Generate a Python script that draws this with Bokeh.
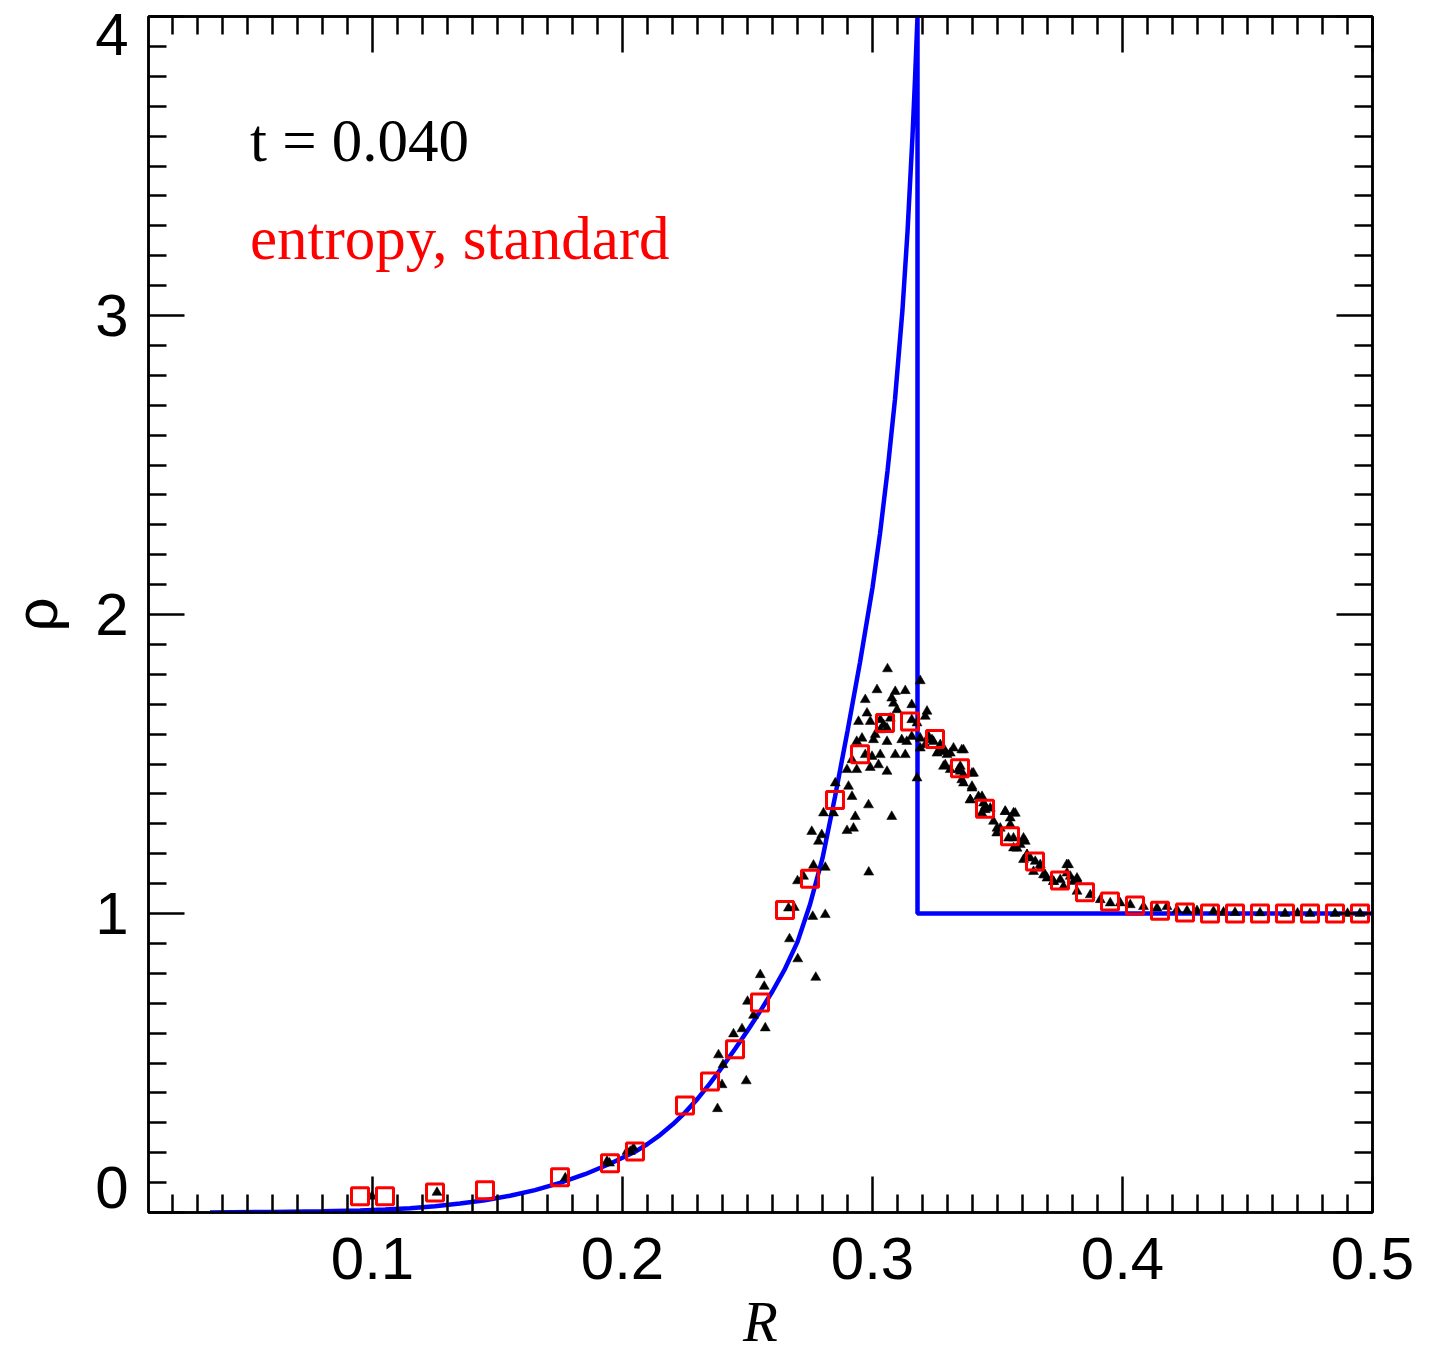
from bokeh.plotting import figure
from bokeh.models import Range1d, LinearAxis, FixedTicker, Label, CustomLabelingPolicy
from bokeh.embed import file_html
from bokeh.resources import INLINE

# ---------------- data ----------------
# analytic (Sedov) density profile, blue line
sol_r = [0.035, 0.060, 0.080, 0.095, 0.105, 0.115, 0.125, 0.135, 0.145, 0.155,
         0.165, 0.175, 0.185, 0.195, 0.205, 0.210, 0.215, 0.220, 0.225, 0.230,
         0.235, 0.240, 0.245, 0.250, 0.255, 0.260, 0.265, 0.270, 0.275, 0.280,
         0.285, 0.290, 0.295, 0.300, 0.303, 0.306, 0.309, 0.312, 0.314, 0.316,
         0.317, 0.318, 0.318, 0.500]
sol_rho = [0.000, 0.002, 0.004, 0.007, 0.010, 0.014, 0.021, 0.030, 0.041, 0.056,
           0.075, 0.099, 0.128, 0.163, 0.203, 0.229, 0.259, 0.294, 0.334, 0.380,
           0.432, 0.488, 0.547, 0.608, 0.672, 0.740, 0.815, 0.905, 1.030, 1.185,
           1.390, 1.610, 1.840, 2.090, 2.270, 2.480, 2.720, 3.020, 3.280, 3.600,
           3.790, 4.000, 1.000, 1.000]

# binned SPH density, red squares
bin_r = [0.095, 0.105, 0.125, 0.145, 0.175, 0.195, 0.205, 0.225, 0.235, 0.245,
         0.255, 0.265, 0.275, 0.285, 0.295, 0.305, 0.315, 0.325, 0.335, 0.345,
         0.355, 0.365, 0.375, 0.385, 0.395, 0.405, 0.415, 0.425, 0.435, 0.445,
         0.455, 0.465, 0.475, 0.485, 0.495]
bin_rho = [0.054, 0.054, 0.067, 0.074, 0.118, 0.165, 0.204, 0.358, 0.438, 0.546,
           0.702, 1.012, 1.116, 1.380, 1.533, 1.637, 1.642, 1.584, 1.486, 1.350,
           1.258, 1.174, 1.110, 1.071, 1.040, 1.027, 1.009, 1.003, 1.000, 1.000,
           1.000, 1.000, 1.000, 1.000, 1.000]

# individual particles, black triangles
part_r = [0.0998, 0.1258, 0.1771, 0.1938, 0.1948, 0.2018, 0.2031, 0.2044,
          0.2380, 0.2398, 0.2495, 0.2402, 0.2384, 0.2444, 0.2478, 0.2571, 0.2524, 0.2500,
          0.2567, 0.2551, 0.2773, 0.2701, 0.2668, 0.2664, 0.2687, 0.2761, 0.2811, 0.2700,
          0.2724, 0.2764, 0.2811, 0.2985,
          0.3060, 0.3018, 0.3091, 0.3131, 0.3191, 0.2971, 0.3077, 0.3084, 0.3157, 0.3098,
          0.2978, 0.3218, 0.3211, 0.2944, 0.2991, 0.3031, 0.3071, 0.3157, 0.3178, 0.3058,
          0.3011, 0.3031, 0.2958, 0.2937, 0.3004, 0.3117, 0.3137, 0.3058, 0.3157, 0.3191,
          0.3224, 0.3191, 0.3211, 0.3244, 0.3271, 0.3264, 0.3284, 0.3298, 0.3324, 0.3364,
          0.2971, 0.2998, 0.3031, 0.3091, 0.3131, 0.2918, 0.2898, 0.2937, 0.2991, 0.3024,
          0.3058, 0.3284, 0.3311, 0.3351, 0.3364, 0.3398, 0.3357, 0.3364, 0.2851, 0.2904,
          0.2918, 0.2984, 0.3077, 0.2931, 0.2898, 0.2924, 0.2804, 0.2844, 0.2784, 0.2797,
          0.2757, 0.3398, 0.3391, 0.3424, 0.3444, 0.3471, 0.3437, 0.3531, 0.3564, 0.3484,
          0.3551, 0.3511, 0.3497, 0.3564, 0.3591, 0.3604, 0.3564, 0.3618, 0.3631, 0.3671,
          0.3644, 0.3684, 0.3777, 0.3698, 0.3724, 0.3791, 0.3804, 0.3818, 0.3178, 0.3044,
          0.3238, 0.3344, 0.3451, 0.3544, 0.3651, 0.3751,
          0.3284, 0.3311, 0.3357, 0.3258, 0.3291, 0.3351, 0.3404, 0.3398, 0.3391, 0.3438,
          0.3451, 0.3531, 0.3571, 0.3551, 0.3498, 0.3611, 0.3578, 0.3618, 0.3604, 0.3671,
          0.3691, 0.3784, 0.3778, 0.3818, 0.3724, 0.3764, 0.3818, 0.3871, 0.3911, 0.3951,
          0.3991, 0.4031, 0.4084, 0.4138, 0.4178, 0.4218, 0.4258, 0.4298, 0.4364, 0.4404,
          0.4450, 0.4550, 0.4650, 0.4750, 0.4850, 0.4950, 0.4700, 0.4900]
part_rho = [0.054, 0.067, 0.115, 0.171, 0.165, 0.204, 0.204, 0.215,
            0.347, 0.427, 0.440, 0.494, 0.527, 0.597, 0.614, 0.617, 0.659, 0.706,
            0.756, 0.795, 0.786, 0.848, 0.915, 1.018, 1.020, 0.990, 0.996, 1.109,
            1.124, 1.161, 1.154, 1.138,
            1.818, 1.748, 1.742, 1.745, 1.778, 1.715, 1.720, 1.703, 1.698, 1.681,
            1.670, 1.676, 1.659, 1.642, 1.642, 1.648, 1.653, 1.648, 1.637, 1.620,
            1.598, 1.614, 1.586, 1.575, 1.581, 1.581, 1.575, 1.575, 1.592, 1.586,
            1.592, 1.553, 1.564, 1.575, 1.564, 1.542, 1.542, 1.531, 1.553, 1.547,
            1.531, 1.525, 1.531, 1.531, 1.531, 1.514, 1.481, 1.481, 1.488, 1.497,
            1.475, 1.492, 1.481, 1.492, 1.464, 1.469, 1.447, 1.436, 1.436, 1.425,
            1.391, 1.363, 1.324, 1.324, 1.277, 1.285, 1.336, 1.336, 1.241, 1.263,
            1.274, 1.425, 1.380, 1.391, 1.369, 1.352, 1.336, 1.341, 1.336, 1.308,
            1.319, 1.285, 1.269, 1.252, 1.230, 1.252, 1.219, 1.196, 1.185, 1.163,
            1.140, 1.129, 1.163, 1.118, 1.107, 1.124, 1.107, 1.118, 1.453, 1.631,
            1.581, 1.481, 1.347, 1.252, 1.174, 1.113,
            1.553, 1.536, 1.547, 1.536, 1.497, 1.475, 1.469, 1.419, 1.380, 1.391,
            1.358, 1.341, 1.335, 1.297, 1.285, 1.241, 1.218, 1.196, 1.180, 1.152,
            1.129, 1.163, 1.135, 1.113, 1.107, 1.090, 1.074, 1.062, 1.046, 1.035,
            1.035, 1.029, 1.023, 1.018, 1.023, 1.012, 1.009, 1.009, 1.007, 1.004,
            1.003, 1.002, 1.000, 1.000, 1.000, 1.000, 1.001, 1.000]

x_ticks = [0.1, 0.2, 0.3, 0.4, 0.5]
y_ticks = [0, 1, 2, 3, 4]
x_minor = [i / 100 for i in range(1, 51) if i % 10]
y_minor = [i / 10 for i in range(1, 40) if i % 10]
x_limits = (0.0104, 0.5)
y_limits = (0.0, 4.0)

time_label = "t = 0.040"
run_label = "entropy, standard"
x_title = "R"
y_title = "\u03c1"

# ---------------- figure ----------------
p = figure(frame_width=1224, frame_height=1196,
           x_range=Range1d(*x_limits), y_range=Range1d(*y_limits),
           output_backend="svg", toolbar_location=None,
           min_border_left=148, min_border_top=16, min_border_right=52, min_border_bottom=100,
           background_fill_color="white", border_fill_color="white")
p.xgrid.visible = False
p.ygrid.visible = False
p.outline_line_color = "black"
p.outline_line_width = 2.5

xt = FixedTicker(ticks=x_ticks, minor_ticks=x_minor)
yt = FixedTicker(ticks=y_ticks, minor_ticks=y_minor)

no_labels_code = """
const n = indices.size
for (let i = 0; i < n; i++) { indices.unset(i) }
return indices
"""


def style(ax, labels=True):
    ax.axis_line_width = 2.5
    ax.axis_line_color = "black"
    ax.major_tick_in = 36
    ax.major_tick_out = 0
    ax.minor_tick_in = 18
    ax.minor_tick_out = 0
    ax.major_tick_line_width = 2.5
    ax.minor_tick_line_width = 2.5
    ax.major_tick_line_color = "black"
    ax.minor_tick_line_color = "black"
    if labels:
        ax.major_label_text_font = "Liberation Sans"
        ax.major_label_text_font_size = "60px"
        ax.major_label_text_color = "black"
    else:
        ax.major_label_text_font_size = "0px"
        ax.major_label_standoff = 0
        ax.major_label_policy = CustomLabelingPolicy(code=no_labels_code)


xa = p.xaxis[0]
xa.ticker = xt
style(xa)
xa.major_label_standoff = 25
xa.axis_label = x_title
xa.axis_label_text_font = "Liberation Serif"
xa.axis_label_text_font_style = "italic"
xa.axis_label_text_font_size = "57px"
xa.axis_label_text_color = "black"
xa.axis_label_standoff = 8

ya = p.yaxis[0]
ya.ticker = yt
style(ya)
ya.major_label_standoff = 20
# the bottom label sits above its tick, as in the original
ya.major_label_overrides = {y_ticks[0]: str(y_ticks[0]) + "\n " * 6}
ya.major_label_text_line_height = 0.125
ya.axis_label = y_title
ya.axis_label_text_font = "Liberation Sans"
ya.axis_label_text_font_style = "normal"
ya.axis_label_text_font_size = "60px"
ya.axis_label_text_color = "black"
ya.axis_label_standoff = 22

top = LinearAxis(ticker=xt)
style(top, labels=False)
p.add_layout(top, "above")
right = LinearAxis(ticker=yt)
style(right, labels=False)
p.add_layout(right, "right")

# data
p.line(sol_r, sol_rho, line_color="#0000ff", line_width=4.5)
p.scatter(part_r, part_rho, marker="triangle", size=10, fill_color="black",
          line_color="black", line_width=0.5)
p.scatter(bin_r, bin_rho, marker="square", size=17, fill_color=None,
          line_color="#ff0000", line_width=3)

# annotations
p.add_layout(Label(x=0.051, y=3.585, text=time_label, text_font="Liberation Serif",
                   text_font_size="61px", text_color="black", text_baseline="alphabetic"))
p.add_layout(Label(x=0.051, y=3.256, text=run_label, text_font="Liberation Serif",
                   text_font_size="61px", text_color="#ff0000", text_baseline="alphabetic"))

open("out.html", "w").write(file_html(p, INLINE))
